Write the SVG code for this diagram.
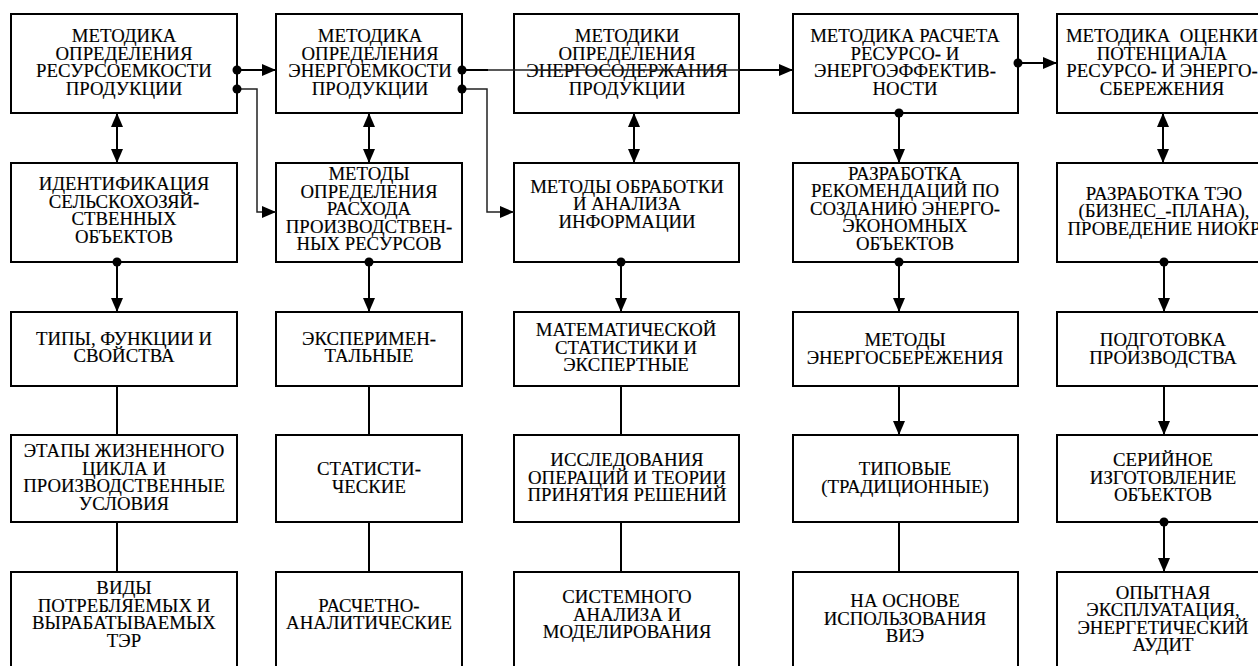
<svg xmlns="http://www.w3.org/2000/svg" width="1258" height="666" viewBox="0 0 1258 666">
<style>
.b{fill:#fff;stroke:#000;stroke-width:2}
.t{font-family:"Liberation Serif","Times New Roman",serif;font-size:18.8px;text-anchor:middle;fill:#000;stroke:#000;stroke-width:0.15}
.c{fill:none;stroke:#000;stroke-width:2}
.e{fill:none;stroke:#222;stroke-width:1.5}
.d{fill:#000}
</style>
<defs>
<marker id="a" markerUnits="userSpaceOnUse" markerWidth="14" markerHeight="12" refX="14" refY="6" orient="auto-start-reverse">
<path d="M0,0 L14,6 L0,12 z" fill="#000"/>
</marker>
</defs>
<rect width="1258" height="666" fill="#fff"/>
<!-- Row 1 -->
<g id="n11"><rect class="b" x="11" y="14" width="226" height="99"/><text class="t"><tspan x="124" y="42">МЕТОДИКА</tspan><tspan x="124" y="59.5">ОПРЕДЕЛЕНИЯ</tspan><tspan x="124" y="77">РЕСУРСОЕМКОСТИ</tspan><tspan x="124" y="94.5">ПРОДУКЦИИ</tspan></text></g>
<g id="n12"><rect class="b" x="276" y="14" width="186" height="99"/><text class="t"><tspan x="370" y="42">МЕТОДИКА</tspan><tspan x="370" y="59.5">ОПРЕДЕЛЕНИЯ</tspan><tspan x="370" y="77">ЭНЕРГОЕМКОСТИ</tspan><tspan x="370" y="94.5">ПРОДУКЦИИ</tspan></text></g>
<g id="n13"><rect class="b" x="514" y="14" width="225" height="99"/><text class="t"><tspan x="627" y="42">МЕТОДИКИ</tspan><tspan x="627" y="59.5">ОПРЕДЕЛЕНИЯ</tspan><tspan x="627" y="77">ЭНЕРГОСОДЕРЖАНИЯ</tspan><tspan x="627" y="94.5">ПРОДУКЦИИ</tspan></text></g>
<g id="n14"><rect class="b" x="793" y="14" width="225" height="99"/><text class="t"><tspan x="905" y="42">МЕТОДИКА РАСЧЕТА</tspan><tspan x="905" y="59.5">РЕСУРСО- И</tspan><tspan x="905" y="77">ЭНЕРГОЭФФЕКТИВ-</tspan><tspan x="905" y="94.5">НОСТИ</tspan></text></g>
<g id="n15"><rect class="b" x="1057" y="14" width="225" height="99"/><text class="t" style="white-space:pre"><tspan x="1162" y="42">МЕТОДИКА  ОЦЕНКИ</tspan><tspan x="1162" y="59.5">ПОТЕНЦИАЛА</tspan><tspan x="1162" y="77">РЕСУРСО- И ЭНЕРГО-</tspan><tspan x="1162" y="94.5">СБЕРЕЖЕНИЯ</tspan></text></g>
<!-- Row 2 -->
<g id="n21"><rect class="b" x="11" y="163" width="226" height="99"/><text class="t"><tspan x="124" y="190">ИДЕНТИФИКАЦИЯ</tspan><tspan x="124" y="207.5">СЕЛЬСКОХОЗЯЙ-</tspan><tspan x="124" y="225">СТВЕННЫХ</tspan><tspan x="124" y="242.5">ОБЪЕКТОВ</tspan></text></g>
<g id="n22"><rect class="b" x="276" y="163" width="186" height="99"/><text class="t"><tspan x="369" y="180">МЕТОДЫ</tspan><tspan x="369" y="197.5">ОПРЕДЕЛЕНИЯ</tspan><tspan x="369" y="215">РАСХОДА</tspan><tspan x="369" y="232.5">ПРОИЗВОДСТВЕН-</tspan><tspan x="369" y="250">НЫХ РЕСУРСОВ</tspan></text></g>
<g id="n23"><rect class="b" x="514" y="163" width="225" height="99"/><text class="t"><tspan x="627" y="192.5">МЕТОДЫ ОБРАБОТКИ</tspan><tspan x="627" y="210">И АНАЛИЗА</tspan><tspan x="627" y="227.5">ИНФОРМАЦИИ</tspan></text></g>
<g id="n24"><rect class="b" x="793" y="163" width="225" height="99"/><text class="t"><tspan x="905" y="179.5">РАЗРАБОТКА</tspan><tspan x="905" y="197">РЕКОМЕНДАЦИЙ ПО</tspan><tspan x="905" y="214.5">СОЗДАНИЮ ЭНЕРГО-</tspan><tspan x="905" y="232">ЭКОНОМНЫХ</tspan><tspan x="905" y="249.5">ОБЪЕКТОВ</tspan></text></g>
<g id="n25"><rect class="b" x="1057" y="163" width="225" height="99"/><text class="t"><tspan x="1164" y="199.5">РАЗРАБОТКА ТЭО</tspan><tspan x="1164" y="217">(БИЗНЕС_-ПЛАНА),</tspan><tspan x="1164" y="234.5">ПРОВЕДЕНИЕ НИОКР</tspan></text></g>
<!-- Row 3 -->
<g id="n31"><rect class="b" x="11" y="312" width="226" height="74"/><text class="t"><tspan x="124" y="344.5">ТИПЫ, ФУНКЦИИ И</tspan><tspan x="124" y="362">СВОЙСТВА</tspan></text></g>
<g id="n32"><rect class="b" x="276" y="312" width="186" height="74"/><text class="t"><tspan x="369" y="344.5">ЭКСПЕРИМЕН-</tspan><tspan x="369" y="362">ТАЛЬНЫЕ</tspan></text></g>
<g id="n33"><rect class="b" x="514" y="312" width="225" height="74"/><text class="t"><tspan x="626" y="336">МАТЕМАТИЧЕСКОЙ</tspan><tspan x="626" y="353.5">СТАТИСТИКИ И</tspan><tspan x="626" y="371">ЭКСПЕРТНЫЕ</tspan></text></g>
<g id="n34"><rect class="b" x="793" y="312" width="225" height="74"/><text class="t"><tspan x="905" y="346">МЕТОДЫ</tspan><tspan x="905" y="363.5">ЭНЕРГОСБЕРЕЖЕНИЯ</tspan></text></g>
<g id="n35"><rect class="b" x="1057" y="312" width="225" height="74"/><text class="t"><tspan x="1163" y="346">ПОДГОТОВКА</tspan><tspan x="1163" y="363.5">ПРОИЗВОДСТВА</tspan></text></g>
<!-- Row 4 -->
<g id="n41"><rect class="b" x="11" y="435" width="226" height="87"/><text class="t"><tspan x="124" y="457">ЭТАПЫ ЖИЗНЕННОГО</tspan><tspan x="124" y="474.5">ЦИКЛА И</tspan><tspan x="124" y="492">ПРОИЗВОДСТВЕННЫЕ</tspan><tspan x="124" y="509.5">УСЛОВИЯ</tspan></text></g>
<g id="n42"><rect class="b" x="276" y="435" width="186" height="87"/><text class="t"><tspan x="369" y="475">СТАТИСТИ-</tspan><tspan x="369" y="492.5">ЧЕСКИЕ</tspan></text></g>
<g id="n43"><rect class="b" x="514" y="435" width="225" height="87"/><text class="t"><tspan x="627" y="466">ИССЛЕДОВАНИЯ</tspan><tspan x="627" y="483.5">ОПЕРАЦИЙ И ТЕОРИИ</tspan><tspan x="627" y="501">ПРИНЯТИЯ РЕШЕНИЙ</tspan></text></g>
<g id="n44"><rect class="b" x="793" y="435" width="225" height="87"/><text class="t"><tspan x="905" y="475">ТИПОВЫЕ</tspan><tspan x="905" y="492.5">(ТРАДИЦИОННЫЕ)</tspan></text></g>
<g id="n45"><rect class="b" x="1057" y="435" width="225" height="87"/><text class="t"><tspan x="1163" y="466">СЕРИЙНОЕ</tspan><tspan x="1163" y="483.5">ИЗГОТОВЛЕНИЕ</tspan><tspan x="1163" y="501">ОБЪЕКТОВ</tspan></text></g>
<!-- Row 5 -->
<g id="n51"><rect class="b" x="11" y="572" width="226" height="110"/><text class="t"><tspan x="124" y="594">ВИДЫ</tspan><tspan x="124" y="611.5">ПОТРЕБЛЯЕМЫХ И</tspan><tspan x="124" y="629">ВЫРАБАТЫВАЕМЫХ</tspan><tspan x="124" y="646.5">ТЭР</tspan></text></g>
<g id="n52"><rect class="b" x="276" y="572" width="186" height="110"/><text class="t"><tspan x="369" y="611.5">РАСЧЕТНО-</tspan><tspan x="369" y="629">АНАЛИТИЧЕСКИЕ</tspan></text></g>
<g id="n53"><rect class="b" x="514" y="572" width="225" height="110"/><text class="t"><tspan x="627" y="603">СИСТЕМНОГО</tspan><tspan x="627" y="620.5">АНАЛИЗА И</tspan><tspan x="627" y="638">МОДЕЛИРОВАНИЯ</tspan></text></g>
<g id="n54"><rect class="b" x="793" y="572" width="225" height="110"/><text class="t"><tspan x="905" y="607">НА ОСНОВЕ</tspan><tspan x="905" y="624.5">ИСПОЛЬЗОВАНИЯ</tspan><tspan x="905" y="642">ВИЭ</tspan></text></g>
<g id="n55"><rect class="b" x="1057" y="572" width="225" height="110"/><text class="t"><tspan x="1163" y="598.5">ОПЫТНАЯ</tspan><tspan x="1163" y="616">ЭКСПЛУАТАЦИЯ,</tspan><tspan x="1163" y="633.5">ЭНЕРГЕТИЧЕСКИЙ</tspan><tspan x="1163" y="651">АУДИТ</tspan></text></g>
<!-- Connectors -->
<g id="connectors">
<line class="c" x1="237" y1="70" x2="276" y2="70" marker-end="url(#a)"/>
<polyline class="e" points="237,89 257,89 257,212 276,212" marker-end="url(#a)"/>
<line class="e" x1="462" y1="70" x2="793" y2="70"/>
<line class="c" x1="462" y1="70" x2="488" y2="70"/>
<line class="c" x1="739" y1="70" x2="793" y2="70" marker-end="url(#a)"/>
<polyline class="e" points="462,89 487,89 487,212 514,212" marker-end="url(#a)"/>
<line class="c" x1="1018" y1="63" x2="1057" y2="63" marker-end="url(#a)"/>
<line class="c" x1="117" y1="113" x2="117" y2="163" marker-start="url(#a)" marker-end="url(#a)"/>
<line class="c" x1="369" y1="113" x2="369" y2="163" marker-start="url(#a)" marker-end="url(#a)"/>
<line class="c" x1="634" y1="113" x2="634" y2="163" marker-start="url(#a)" marker-end="url(#a)"/>
<line class="c" x1="1163" y1="113" x2="1163" y2="163" marker-start="url(#a)" marker-end="url(#a)"/>
<line class="c" x1="899" y1="113" x2="899" y2="163" marker-end="url(#a)"/>
<line class="c" x1="117" y1="262" x2="117" y2="312" marker-end="url(#a)"/>
<line class="c" x1="369" y1="262" x2="369" y2="312" marker-end="url(#a)"/>
<line class="c" x1="621" y1="262" x2="621" y2="312" marker-end="url(#a)"/>
<line class="c" x1="899" y1="262" x2="899" y2="312" marker-end="url(#a)"/>
<line class="c" x1="1164" y1="262" x2="1164" y2="312" marker-end="url(#a)"/>
<line class="c" x1="117" y1="386" x2="117" y2="435"/>
<line class="c" x1="369" y1="386" x2="369" y2="435"/>
<line class="c" x1="621" y1="386" x2="621" y2="435"/>
<line class="c" x1="899" y1="386" x2="899" y2="435" marker-end="url(#a)"/>
<line class="c" x1="1164" y1="386" x2="1164" y2="435" marker-end="url(#a)"/>
<line class="c" x1="117" y1="522" x2="117" y2="572"/>
<line class="c" x1="369" y1="522" x2="369" y2="572"/>
<line class="c" x1="621" y1="522" x2="621" y2="572"/>
<line class="c" x1="899" y1="522" x2="899" y2="572"/>
<line class="c" x1="1164" y1="522" x2="1164" y2="572" marker-end="url(#a)"/>
<circle class="d" cx="237" cy="70" r="4.5"/>
<circle class="d" cx="237" cy="89" r="4.5"/>
<circle class="d" cx="462" cy="70" r="4.5"/>
<circle class="d" cx="462" cy="89" r="4.5"/>
<circle class="d" cx="1018" cy="63" r="4.5"/>
<circle class="d" cx="899" cy="113" r="4.5"/>
<circle class="d" cx="117" cy="262" r="4.5"/>
<circle class="d" cx="369" cy="262" r="4.5"/>
<circle class="d" cx="621" cy="262" r="4.5"/>
<circle class="d" cx="899" cy="262" r="4.5"/>
<circle class="d" cx="1164" cy="262" r="4.5"/>
<circle class="d" cx="1164" cy="522" r="4.5"/>
</g>
</svg>
